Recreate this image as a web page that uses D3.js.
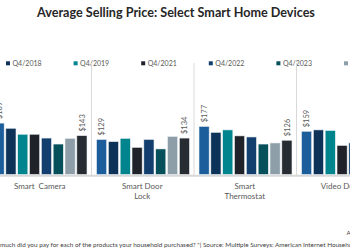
<!DOCTYPE html>
<html><head><meta charset="utf-8">
<script src="https://cdn.jsdelivr.net/npm/d3@7"></script>
<style>html,body{margin:0;padding:0;background:#fff;overflow:hidden}svg{display:block;font-family:Lato,"Open Sans",sans-serif}</style>
</head><body>
<svg id="c" width="350" height="250"></svg>
<script>
const title = "Average Selling Price: Select Smart Home Devices";
const categories = ["Smart  Camera", "Smart Door Lock", "Smart Thermostat", "Video Doorbell"];
const categoryLines = [["Smart  Camera"], ["Smart Door", "Lock"], ["Smart", "Thermostat"], ["Video Doorbell"]];
const series = ["Q4/2017", "Q4/2018", "Q4/2019", "Q4/2021", "Q4/2022", "Q4/2023", "Q4/2024", "Q4/2025"];
const colors = ["#1b5e9b", "#0d3358", "#00858f", "#1f2329", "#123f6d", "#05505a", "#8d9ea9", "#262c32"];
// values[seriesIndex][categoryIndex]; null = not visible in the picture
const values = [
  [189, 129, 177, 159],
  [170, 121, 155, 164],
  [148, 133, 164, 162],
  [148, 100, 142, 107],
  [134, 129, 138, 116],
  [112, 94, 112, null],
  [133, 140, 116, null],
  [143, 134, 126, null]
];
const footnote = "much did you pay for each of the products your household purchased? \"| Source: Multiple Surveys: American Internet Households";
const sideNote = "A";

const svg = d3.select("#c");
const baseY = 174.5;
const y = d3.scaleLinear().domain([0, 200]).range([baseY, baseY - 200 * 0.272]);
const x0 = d3.scaleBand().domain(categories).range([-11.5, 398.5]).paddingInner(0).paddingOuter(0);
const x1 = d3.scaleBand().domain(series).range([5.5, 98.5]).paddingInner(0.14).paddingOuter(0);

// title
const t = svg.append("text").attr("x", 176).attr("y", 17).attr("text-anchor", "middle")
  .attr("font-weight", "bold").attr("font-size", 13).attr("fill", "#262626").text(title);
const tw = t.node().getComputedTextLength();
t.attr("font-size", 13 * 278 / tw);

// legend (entries that lie fully off the left edge are not drawn)
const legend = svg.append("g");
series.forEach((s, i) => {
  const lx = 6 + (i - 1) * 67.6;
  if (lx + 40 < 0) return;
  legend.append("rect").attr("x", lx).attr("y", 61.3).attr("width", 4).attr("height", 4).attr("fill", colors[i]);
  legend.append("text").attr("x", lx + 6.5).attr("y", 65.8).attr("font-size", 7).attr("fill", "#595959").text(s);
});

// separators
categories.forEach((c, i) => {
  if (i === 0) return;
  svg.append("line").attr("x1", x0(c) + 0.5).attr("x2", x0(c) + 0.5).attr("y1", 63).attr("y2", 177)
    .attr("stroke", "#d9d9d9").attr("stroke-width", 1);
});
// baseline
svg.append("line").attr("x1", 0).attr("x2", 350).attr("y1", baseY + 1.2).attr("y2", baseY + 1.2)
  .attr("stroke", "#d9d9d9").attr("stroke-width", 2);

// bars
const g = svg.append("g");
series.forEach((s, si) => {
  categories.forEach((c, ci) => {
    const v = values[si][ci];
    if (v == null) return;
    g.append("rect").attr("x", x0(c) + x1(s)).attr("y", y(v)).attr("width", x1.bandwidth())
      .attr("height", baseY - y(v)).attr("fill", colors[si]).attr("stroke", "#eef2f5").attr("stroke-width", 0.6);
  });
});

// value labels for first and last series
[0, series.length - 1].forEach(si => {
  categories.forEach((c, ci) => {
    const v = values[si][ci];
    if (v == null) return;
    const cx = x0(c) + x1(series[si]) + x1.bandwidth() / 2;
    const ty = y(v) - 4;
    svg.append("text").attr("transform", `translate(${cx},${ty}) rotate(-90)`)
      .attr("dy", "0.35em").attr("font-size", 7.5).attr("fill", "#595959").text("$" + v);
  });
});

// category labels
categories.forEach((c, ci) => {
  const cx = x0(c) + x0.bandwidth() / 2;
  categoryLines[ci].forEach((ln, li) => {
    svg.append("text").attr("x", cx).attr("y", 189 + li * 10).attr("text-anchor", "middle")
      .attr("font-size", 8).attr("fill", "#595959").style("white-space", "pre").text(ln);
  });
});

// footnote: sized so that "...Internet Househ" reaches the right edge, as in the picture
const fn = svg.append("text").attr("x", 0).attr("y", 246.5).attr("font-size", 6).attr("fill", "#404040").text(footnote);
const cut = footnote.indexOf("Households") + 6;
const pre = fn.node().getSubStringLength(0, cut);
fn.attr("font-size", 6 * 350 / pre);
svg.append("text").attr("x", 346.5).attr("y", 235).attr("font-size", 6).attr("fill", "#404040").text(sideNote);
</script>
</body></html>
